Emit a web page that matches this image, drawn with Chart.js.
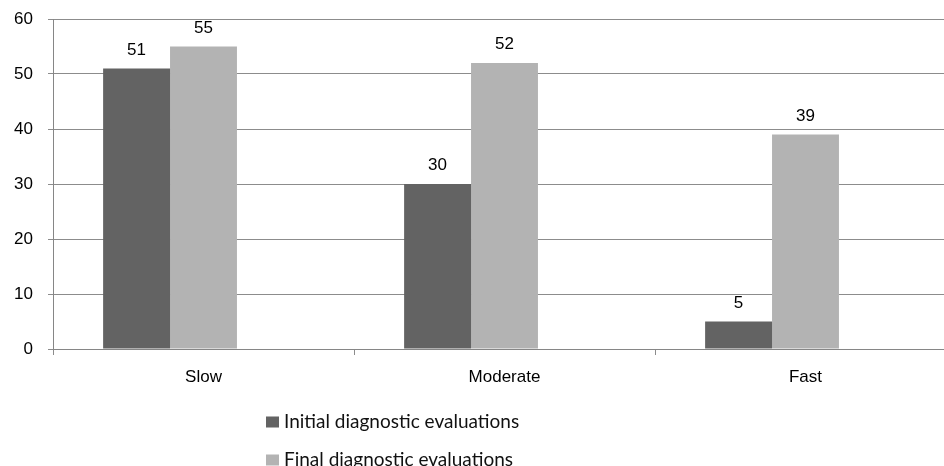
<!DOCTYPE html>
<html>
<head>
<meta charset="utf-8">
<script src="https://cdn.jsdelivr.net/npm/chart.js@4.4.1/dist/chart.umd.min.js"></script>
<style>
  html, body { margin: 0; padding: 0; background: #fff; overflow: hidden; }
  #wrap { width: 960px; height: 466px; }
</style>
</head>
<body>
<div id="wrap"><canvas id="chart" width="960" height="466"></canvas></div>
<script>
const categories = ['Slow', 'Moderate', 'Fast'];
const initialValues = [51, 30, 5];
const finalValues = [55, 52, 39];
const seriesNames = ['Initial diagnostic evaluations', 'Final diagnostic evaluations'];
const yTicks = [0, 10, 20, 30, 40, 50, 60];

const axisFont = { family: '"Liberation Sans", Arial, sans-serif', size: 17 };
const gridGray = '#8c8c8c';

// value labels above each bar
const valueLabels = {
    id: 'valueLabels',
    afterDatasetsDraw(chart) {
        const ctx = chart.ctx;
        ctx.save();
        ctx.font = '17px "Liberation Sans", Arial, sans-serif';
        ctx.fillStyle = '#000';
        ctx.textAlign = 'center';
        ctx.textBaseline = 'alphabetic';
        chart.data.datasets.forEach((ds, i) => {
            if (ds.hidden_series) return;
            chart.getDatasetMeta(i).data.forEach((bar, j) => {
                if (ds.data[j] == null) return;
                ctx.fillText(ds.data[j], bar.x, bar.y - 14);
            });
        });
        ctx.restore();
    }
};

// stacked legend below the plot
const stackedLegend = {
    id: 'stackedLegend',
    afterDraw(chart) {
        const ctx = chart.ctx;
        ctx.save();
        ctx.font = '19px Lato, "Open Sans", sans-serif';
        ctx.textBaseline = 'middle';
        let y = 422;
        chart.data.datasets.forEach(ds => {
            if (ds.hidden_series) return;
            ctx.fillStyle = ds.backgroundColor;
            ctx.fillRect(266, y - 5.5, 13, 11);
            ctx.fillStyle = '#111';
            ctx.fillText(ds.label, 284, y);
            y += 38;
        });
        ctx.restore();
    }
};

new Chart(document.getElementById('chart'), {
    type: 'bar',
    data: {
        labels: categories,
        datasets: [
            { label: seriesNames[0], data: initialValues, backgroundColor: '#636363' },
            { label: seriesNames[1], data: finalValues, backgroundColor: '#b3b3b3' },
            // empty third series, as in the original spreadsheet chart
            { label: '', data: [null, null, null], backgroundColor: 'rgba(0,0,0,0)', hidden_series: true }
        ]
    },
    options: {
        responsive: false,
        animation: false,
        layout: { padding: { top: 19, right: 4, bottom: 67, left: 0 } },
        datasets: { bar: { barPercentage: 1, categoryPercentage: 0.667 } },
        plugins: { legend: { display: false }, tooltip: { enabled: false } },
        scales: {
            x: {
                grid: { drawOnChartArea: false, drawTicks: true, tickLength: 6, color: gridGray, offset: true },
                border: { color: '#868686' },
                ticks: { font: axisFont, color: '#000', padding: 12 },
                afterFit(scale) { scale.height = 50; }
            },
            y: {
                min: 0,
                max: 60,
                afterBuildTicks(scale) { scale.ticks = yTicks.map(v => ({ value: v })); },
                grid: { color: gridGray, tickLength: 5 },
                border: { color: '#868686' },
                ticks: { font: axisFont, color: '#000', padding: 15 },
                afterFit(scale) {
                    scale.width = 53;
                    scale.paddingTop = 0;
                    scale.paddingBottom = 0;
                }
            }
        }
    },
    plugins: [valueLabels, stackedLegend]
});
</script>
</body>
</html>
